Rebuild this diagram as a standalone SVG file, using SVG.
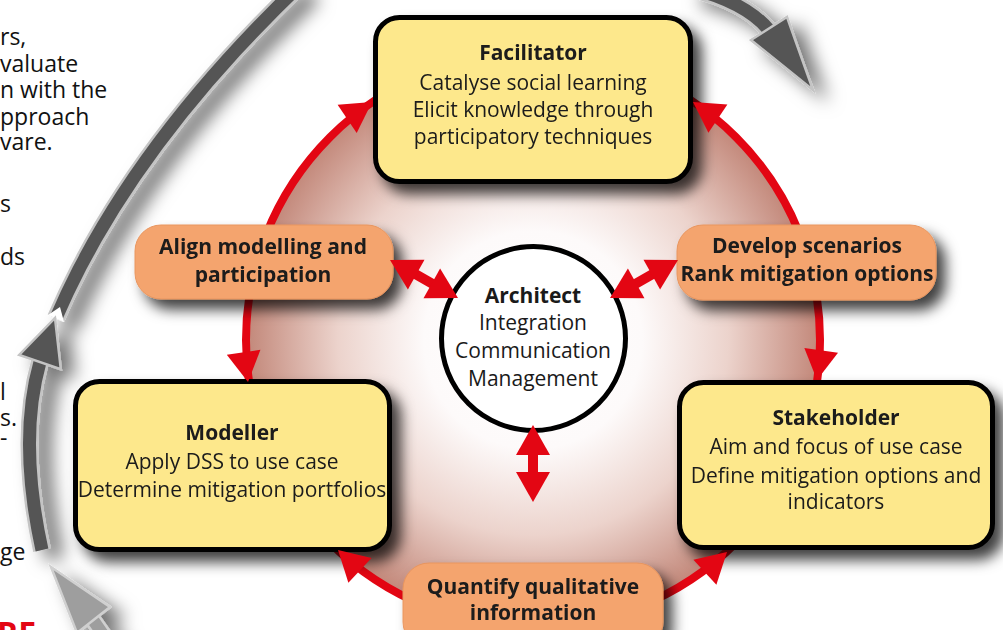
<svg xmlns="http://www.w3.org/2000/svg" width="1003" height="630" viewBox="0 0 1003 630">
<defs>
  <style>
    .t { font-family: "Open Sans", "Noto Sans", sans-serif; font-size: 21px; fill: #1a1a1a; text-anchor: middle; }
    .b { font-weight: bold; }
    .side { font-family: "Open Sans", "Noto Sans", sans-serif; font-size: 23px; fill: #111; }
    .box { fill: #fde88c; stroke: #000; stroke-width: 5; }
    .lbl { fill: #f4a46e; stroke: #e8955e; stroke-width: 1; }
    .red { fill: #e30613; }
    .redline { fill: none; stroke: #e30613; }
    .gout { fill: none; stroke: #c4c4c4; stroke-width: 18; }
    .gin { fill: none; stroke: #555555; stroke-width: 13; }
    .ghead { fill: #555555; stroke: #c4c4c4; stroke-width: 2.5; stroke-linejoin: miter; }
  </style>
  <radialGradient id="disk" cx="533" cy="340" r="287" gradientUnits="userSpaceOnUse">
    <stop offset="0" stop-color="#ffffff"/>
    <stop offset="0.38" stop-color="#fdfafa"/>
    <stop offset="0.68" stop-color="#ecd3cc"/>
    <stop offset="1" stop-color="#c28779"/>
  </radialGradient>
  <filter id="boxShadow" x="-20%" y="-20%" width="150%" height="160%">
    <feGaussianBlur in="SourceAlpha" stdDeviation="7"/>
    <feOffset dx="9" dy="10" result="b"/>
    <feFlood flood-color="#000" flood-opacity="0.75"/>
    <feComposite in2="b" operator="in"/>
    <feMerge><feMergeNode/><feMergeNode in="SourceGraphic"/></feMerge>
  </filter>
  <filter id="arrowShadow" x="-50%" y="-50%" width="200%" height="200%">
    <feGaussianBlur in="SourceAlpha" stdDeviation="9"/>
    <feOffset dx="13" dy="9" result="b"/>
    <feFlood flood-color="#000" flood-opacity="0.55"/>
    <feComposite in2="b" operator="in"/>
    <feMerge><feMergeNode/><feMergeNode in="SourceGraphic"/></feMerge>
  </filter>
  <polygon id="rh" points="0,0 -30,-17 -30,17"/>
</defs>

<rect width="1003" height="630" fill="#ffffff"/>

<g id="side-text">
  <text class="side" x="0" y="45">rs,</text>
  <text class="side" x="0" y="72">valuate</text>
  <text class="side" x="0" y="98">n with the</text>
  <text class="side" x="0" y="125">pproach</text>
  <text class="side" x="0" y="150">vare.</text>
  <text class="side" x="0" y="212">s</text>
  <text class="side" x="0" y="265">ds</text>
  <text class="side" x="0" y="400">l</text>
  <text class="side" x="0" y="426">s.</text>
  <text class="side" x="0" y="446">-</text>
  <text class="side" x="0" y="560">ge</text>
  <text x="-3" y="645" style="font-family:'Open Sans','Noto Sans',sans-serif;font-size:32px;font-weight:bold;fill:#e30613">RE</text>
</g>

<g id="cycle-arrows" filter="url(#arrowShadow)">
  <path class="gout" d="M 56 318 Q 128 150 300 -15"/>
  <path class="gin" d="M 56 318 Q 128 150 300 -15"/>
  <polygon points="64,322 48,315 60,307" fill="#ffffff"/>
  <path class="gout" d="M 42 550 Q 18 440 40 362"/>
  <path class="gin" d="M 42 550 Q 18 440 40 362"/>
  <polygon class="ghead" points="55,318 60.8,369.1 19.2,354.9"/>
  <path class="gout" d="M 690 -12 Q 745 2 768 29"/>
  <path class="gin" d="M 690 -12 Q 745 2 768 29"/>
  <polygon class="ghead" points="813,90 751,40 787,17"/>
  <path d="M 93 620 L 135 680" fill="none" stroke="#d0d0d0" stroke-width="17"/>
  <path d="M 93 620 L 135 680" fill="none" stroke="#9e9e9e" stroke-width="12"/>
  <polygon points="51,567 110,607 77,633" fill="#9e9e9e" stroke="#d0d0d0" stroke-width="2.5"/>
</g>

<g id="disk-bg">
  <circle cx="533" cy="340" r="287" fill="url(#disk)"/>
</g>

<g id="connectors">
  <circle class="redline" cx="533" cy="340" r="287" stroke-width="8"/>
</g>

<g id="facilitator" filter="url(#boxShadow)">
  <rect class="box" x="375.5" y="17.5" width="315" height="164" rx="24"/>
  <text class="t b" x="533" y="60">Facilitator</text>
  <text class="t" x="533" y="90">Catalyse social learning</text>
  <text class="t" x="533" y="117">Elicit knowledge through</text>
  <text class="t" x="533" y="144">participatory techniques</text>
</g>

<g id="modeller" filter="url(#boxShadow)">
  <rect class="box" x="75.5" y="381.5" width="314" height="168" rx="24"/>
  <text class="t b" x="232" y="440">Modeller</text>
  <text class="t" x="232" y="469">Apply DSS to use case</text>
  <text class="t" x="232" y="497">Determine mitigation portfolios</text>
</g>

<g id="stakeholder" filter="url(#boxShadow)">
  <rect class="box" x="679.5" y="382.5" width="313" height="165" rx="24"/>
  <text class="t b" x="836" y="425">Stakeholder</text>
  <text class="t" x="836" y="454">Aim and focus of use case</text>
  <text class="t" x="836" y="483">Define mitigation options and</text>
  <text class="t" x="836" y="509">indicators</text>
</g>

<g id="align" filter="url(#boxShadow)">
  <rect class="lbl" x="135" y="225" width="258" height="74" rx="26"/>
  <text class="t b" x="263" y="254">Align modelling and</text>
  <text class="t b" x="263" y="282">participation</text>
</g>

<g id="develop" filter="url(#boxShadow)">
  <rect class="lbl" x="677" y="225" width="259" height="75" rx="26"/>
  <text class="t b" x="807" y="253">Develop scenarios</text>
  <text class="t b" x="807" y="281">Rank mitigation options</text>
</g>

<g id="quantify" filter="url(#boxShadow)">
  <rect class="lbl" x="403" y="563" width="260" height="85" rx="26"/>
  <text class="t b" x="533" y="594">Quantify qualitative</text>
  <text class="t b" x="533" y="620">information</text>
</g>

<g id="architect">
  <circle cx="533.5" cy="338.5" r="92" fill="#ffffff" stroke="#000" stroke-width="5"/>
  <text class="t b" x="533" y="303">Architect</text>
  <text class="t" x="533" y="330">Integration</text>
  <text class="t" x="533" y="358">Communication</text>
  <text class="t" x="533" y="386">Management</text>
</g>

<g id="arrows">
  <use href="#rh" class="red" transform="translate(372,102) rotate(-34.1)"/>
  <use href="#rh" class="red" transform="translate(248,382) rotate(81.6)"/>
  <use href="#rh" class="red" transform="translate(693,102) rotate(213.9)"/>
  <use href="#rh" class="red" transform="translate(817,380) rotate(98)"/>
  <use href="#rh" class="red" transform="translate(338,550) rotate(222.9)"/>
  <use href="#rh" class="red" transform="translate(727,552) rotate(-42.5)"/>

  <line class="redline" x1="410" y1="271" x2="438" y2="287" stroke-width="10"/>
  <use href="#rh" class="red" transform="translate(458,298) rotate(29.2)"/>
  <use href="#rh" class="red" transform="translate(390,260) rotate(209.2)"/>

  <line class="redline" x1="658" y1="271" x2="630" y2="287" stroke-width="10"/>
  <use href="#rh" class="red" transform="translate(610,298) rotate(150.8)"/>
  <use href="#rh" class="red" transform="translate(678,260) rotate(-29.2)"/>

  <line class="redline" x1="533" y1="450" x2="533" y2="477" stroke-width="10"/>
  <use href="#rh" class="red" transform="translate(533,502) rotate(90)"/>
  <use href="#rh" class="red" transform="translate(533,425) rotate(-90)"/>
</g>
</svg>
